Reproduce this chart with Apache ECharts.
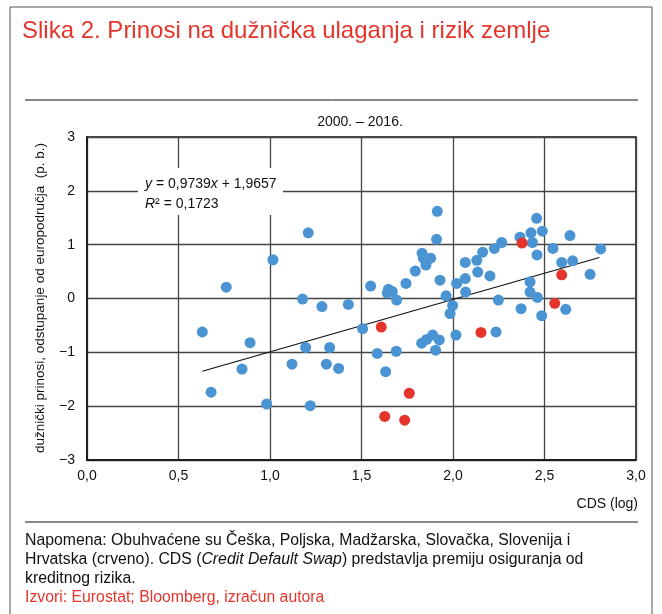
<!DOCTYPE html>
<html>
<head>
<meta charset="utf-8">
<script src="https://cdn.jsdelivr.net/npm/echarts@6/dist/echarts.min.js"></script>
<style>
html,body{margin:0;padding:0;background:#fff;}
#chart{width:662px;height:614px;}
</style>
</head>
<body>
<div id="chart"></div>
<script>
// ---- data ----
var xTicks = ['0,0','0,5','1,0','1,5','2,0','2,5','3,0'];
var yTicks = ['\u22123','\u22122','\u22121','0','1','2','3'];
var blueX = [0.63,0.678,0.761,0.891,0.847,0.982,1.016,1.209,1.178,1.284,1.428,1.506,1.195,1.326,1.12,1.308,1.375,1.22,1.586,1.69,
             1.632,1.55,1.647,1.668,1.641,1.692,1.743,1.794,1.831,1.838,1.878,1.852,1.91,1.914,1.929,1.962,1.998,1.984,2.02,2.067,
             2.067,2.069,1.829,1.856,1.889,1.925,1.905,2.016,2.457,2.426,2.488,2.366,2.434,2.266,2.226,2.162,2.13,2.639,2.807,2.546,
             2.459,2.594,2.654,2.749,2.135,2.202,2.421,2.421,2.461,2.248,2.372,2.616,2.485,2.235];
var blueY = [-0.62,-1.74,0.21,-0.82,-1.31,-1.96,0.72,1.22,-0.01,-0.15,-0.11,-0.56,-0.91,-0.91,-1.22,-1.22,-1.30,-1.99,-1.02,-0.98,
             -1.36,0.23,0.17,0.13,0.10,-0.03,0.28,0.51,0.84,0.75,0.75,0.62,1.10,1.62,0.34,0.05,-0.13,-0.28,0.28,0.67,
             0.37,0.12,-0.83,-0.76,-0.68,-0.77,-0.96,-0.68,1.49,1.22,1.25,1.14,1.04,1.04,0.93,0.86,0.71,1.17,0.92,0.93,
             0.81,0.67,0.70,0.45,0.49,0.42,0.31,0.12,0.02,-0.03,-0.19,-0.20,-0.32,-0.62];
var redX = [1.608,1.761,1.627,1.736,2.377,2.594,2.556,2.153];
var redY = [-0.53,-1.76,-2.19,-2.26,1.03,0.44,-0.09,-0.63];
var trendX = [0.63, 2.80];
var trendY = [-1.352, 0.761];

function pairs(xs, ys){ return xs.map(function(v,i){ return [v, ys[i]]; }); }

var SANS = "'Liberation Sans',Arial,sans-serif";

var chart = echarts.init(document.getElementById('chart'), null, {renderer:'canvas'});
chart.setOption({
  animation:false,
  backgroundColor:'#fff',
  grid:{left:87,right:26,top:137,bottom:154,show:true,borderColor:'#111',borderWidth:1.5,backgroundColor:'transparent'},
  xAxis:{
    type:'value',min:0,max:3,interval:0.5,
    axisLine:{show:true,onZero:false,lineStyle:{color:'#111',width:1.5}},
    axisTick:{show:false},
    splitLine:{show:true,lineStyle:{color:'#444',width:1.3}},
    axisLabel:{color:'#111',fontFamily:SANS,fontSize:14,margin:9,
      formatter:function(v){ return xTicks[Math.round(v/0.5)]; }}
  },
  yAxis:{
    type:'value',min:-3,max:3,interval:1,
    axisLine:{show:true,onZero:false,lineStyle:{color:'#111',width:1.5}},
    axisTick:{show:false},
    splitLine:{show:true,lineStyle:{color:'#444',width:1.3}},
    axisLabel:{color:'#111',fontFamily:SANS,fontSize:14,margin:12,
      formatter:function(v){ return yTicks[Math.round(v+3)]; }}
  },
  series:[
    {type:'line',data:pairs(trendX,trendY),symbol:'none',lineStyle:{color:'#111',width:1.2},z:3,silent:true},
    {type:'scatter',data:pairs(blueX,blueY),symbolSize:11,itemStyle:{color:'#4A94D3',opacity:1},z:4},
    {type:'scatter',data:pairs(redX,redY),symbolSize:11,itemStyle:{color:'#E5352B',opacity:1},z:5}
  ],
  graphic:[
    {type:'rect',shape:{x:10,y:7,width:642,height:620},style:{fill:'none',stroke:'#555',lineWidth:1},silent:true,z:1},
    {type:'text',x:22,y:31,style:{text:'Slika 2. Prinosi na dužnička ulaganja i rizik zemlje',fill:'#E5352B',font:'24px '+SANS,verticalAlign:'middle'},z:10},
    {type:'line',shape:{x1:25,y1:100,x2:638,y2:100},style:{stroke:'#111',lineWidth:1},z:10},
    {type:'text',x:360,y:122,style:{text:'2000. \u2013 2016.',fill:'#111',font:'14px '+SANS,align:'center',verticalAlign:'middle'},z:10},
    {type:'text',x:40,y:298,rotation:Math.PI/2,style:{text:'dužnički prinosi, odstupanje od europodručja  (p. b.)',fill:'#111',font:'13.5px '+SANS,align:'center',verticalAlign:'middle'},z:10},
    {type:'text',x:638,y:504,style:{text:'CDS (log)',fill:'#111',font:'14px '+SANS,align:'right',verticalAlign:'middle'},z:10},
    {type:'line',shape:{x1:25,y1:522,x2:638,y2:522},style:{stroke:'#111',lineWidth:1},z:10},
    {type:'text',x:25,y:541,style:{rich:{n:{font:'15.8px '+SANS,fill:'#111'},i:{font:'italic 15.8px '+SANS,fill:'#111'}},
       text:'{n|Napomena: Obuhvaćene su Češka, Poljska, Madžarska, Slovačka, Slovenija i}',verticalAlign:'middle'},z:10},
    {type:'text',x:25,y:560,style:{rich:{n:{font:'15.8px '+SANS,fill:'#111'},i:{font:'italic 15.8px '+SANS,fill:'#111'}},
       text:'{n|Hrvatska (crveno). CDS (}{i|Credit Default Swap}{n|) predstavlja premiju osiguranja od}',verticalAlign:'middle'},z:10},
    {type:'text',x:25,y:579,style:{text:'kreditnog rizika.',font:'15.8px '+SANS,fill:'#111',verticalAlign:'middle'},z:10},
    {type:'text',x:25,y:598,style:{text:'Izvori: Eurostat; Bloomberg, izračun autora',font:'15.8px '+SANS,fill:'#E5352B',verticalAlign:'middle'},z:10},
    {type:'rect',shape:{x:138,y:168,width:145,height:47},style:{fill:'#fff'},z:8},
    {type:'text',x:145,y:184,style:{rich:{n:{font:'14px '+SANS,fill:'#111'},i:{font:'italic 14px '+SANS,fill:'#111'}},
       text:'{i|y}{n| = 0,9739}{i|x}{n| + 1,9657}',verticalAlign:'middle'},z:10},
    {type:'text',x:145,y:204,style:{rich:{n:{font:'14px '+SANS,fill:'#111'},i:{font:'italic 14px '+SANS,fill:'#111'}},
       text:'{i|R}{n|² = 0,1723}',verticalAlign:'middle'},z:10}
  ]
});
</script>
</body>
</html>
